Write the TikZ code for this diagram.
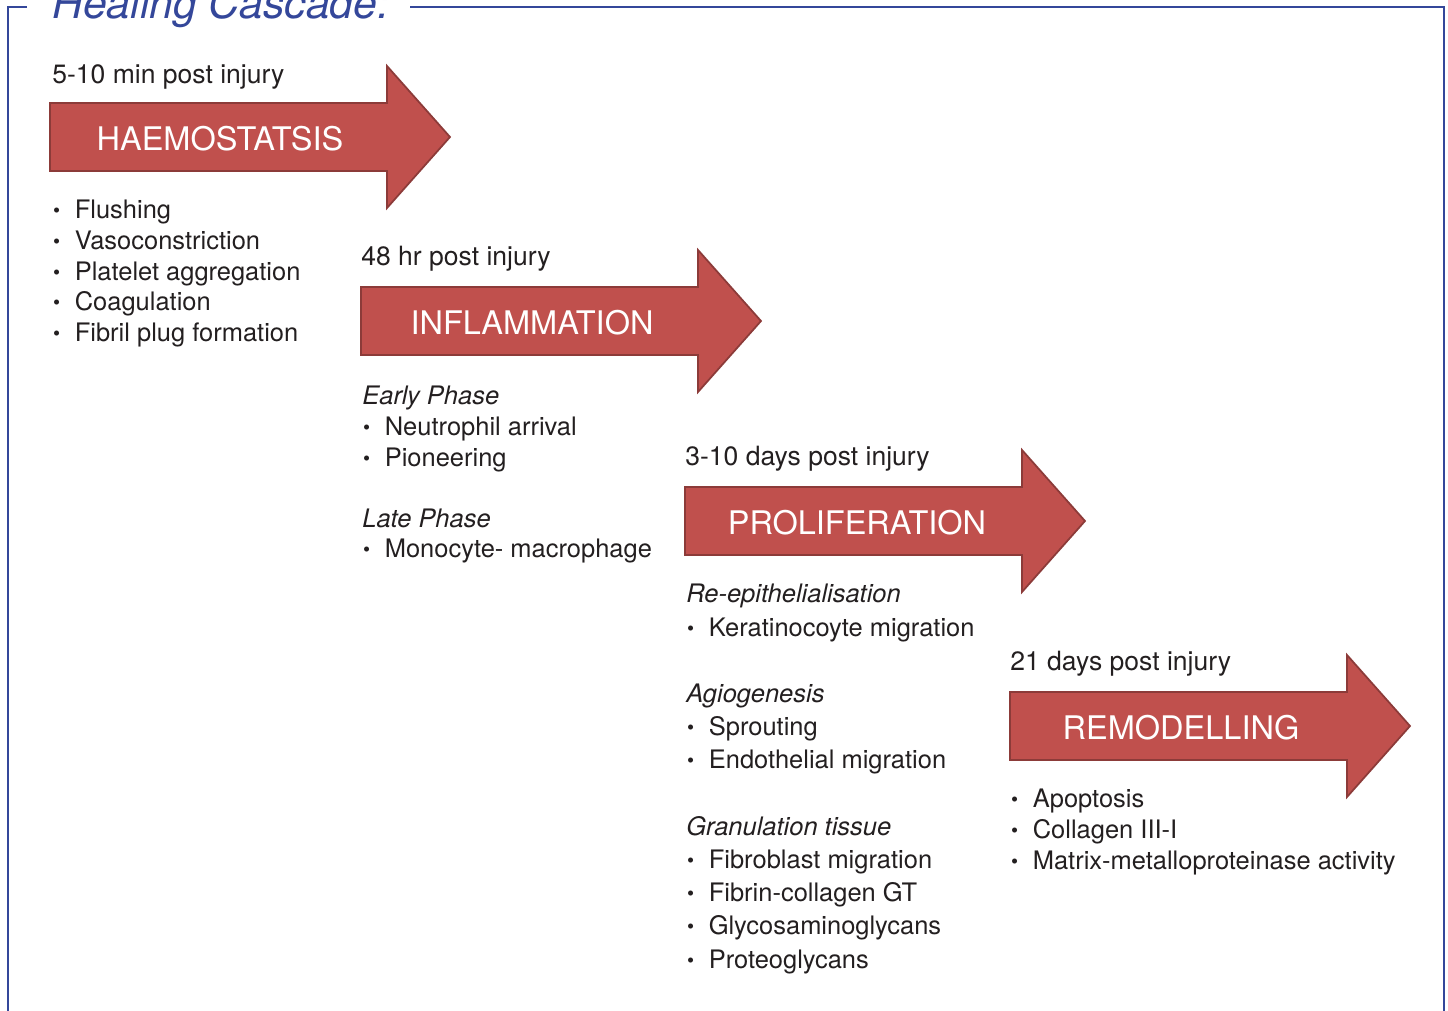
\documentclass[tikz,border=0pt]{standalone}
\usepackage{fontspec}
\setmainfont{TeX Gyre Heros}

\definecolor{cascblue}{HTML}{34479A}
\definecolor{arrowred}{HTML}{C0504D}
\definecolor{arrowrim}{HTML}{8C3B39}
\definecolor{inktext}{HTML}{231F20}

\newcommand{\bul}{\makebox[12.8pt][l]{\hspace{0.4pt}\raisebox{0.6pt}{\fontsize{11.5}{11.5}\selectfont\textbullet}}}

\begin{document}
\begin{tikzpicture}[x=0.02cm,y=-0.02cm,
	phase/.style={fill=arrowred,draw=arrowrim,line width=1pt,line join=miter},
	phaselabel/.style={text=white,font=\fontsize{18.5}{21}\selectfont,inner sep=0pt},
	when/.style={anchor=base west,inner sep=0pt,text=inktext,font=\fontsize{15.1}{18}\selectfont},
	items/.style={anchor=north west,inner sep=0pt,align=left,text=inktext,font=\fontsize{14.5}{17.4}\selectfont}]
			\useasboundingbox (0,0) rectangle (1448,1011);
			\clip (0,0) rectangle (1448,1011);
			\node[anchor=base west,inner sep=0pt,text=cascblue,font=\fontsize{24.3}{28}\selectfont\itshape] (ttl) at (52,18) {Healing Cascade:};
			\draw[cascblue,line width=1.4pt] (27,7)--(8,7)--(8,1030);
			\draw[cascblue,line width=1.4pt] (410,7)--(1444,7)--(1444,1030);
			\draw[phase] (50,103)--(387,103)--(387,66)--(450,137)--(387,208)--(387,171)--(50,171)--cycle;
			\draw[phase] (361,287)--(698,287)--(698,250)--(761,321)--(698,392)--(698,355)--(361,355)--cycle;
			\draw[phase] (685,487)--(1022,487)--(1022,450)--(1085,521)--(1022,592)--(1022,555)--(685,555)--cycle;
			\draw[phase] (1010,692)--(1347,692)--(1347,655)--(1410,726)--(1347,797)--(1347,760)--(1010,760)--cycle;
			\node[phaselabel] (haem) at (220,139) {HAEMOSTATSIS};
			\node[phaselabel] (infl) at (532,323) {INFLAMMATION};
			\node[phaselabel] (prol) at (857,523) {PROLIFERATION};
			\node[phaselabel] (remo) at (1181,728) {REMODELLING};
			\node[when] (haemtime) at (52,83) {5-10 min post injury};
			\node[when] (infltime) at (361,265) {48 hr post injury};
			\node[when] (proltime) at (685,465) {3-10 days post injury};
			\node[when] (remotime) at (1010,670) {21 days post injury};
			\node[items] (haemlist) at (52,200) {\bul Flushing\\ \bul Vasoconstriction\\ \bul Platelet aggregation\\ \bul Coagulation\\ \bul Fibril plug formation};
			\node[items] (infllist) at (362,386) {\textit{Early Phase}\\ \bul Neutrophil arrival\\ \bul Pioneering\\[17.4pt] \textit{Late Phase}\\ \bul Monocyte- macrophage};
			\node[items,font=\fontsize{14.5}{18.9}\selectfont] (prollist) at (686,584) {\textit{Re-epithelialisation}\\ \bul Keratinocoyte migration\\[18.9pt] \textit{Agiogenesis}\\ \bul Sprouting\\ \bul Endothelial migration\\[18.9pt] \textit{Granulation tissue}\\ \bul Fibroblast migration\\ \bul Fibrin-collagen GT\\ \bul Glycosaminoglycans\\ \bul Proteoglycans};
			\node[items] (remolist) at (1010,789) {\bul Apoptosis\\ \bul Collagen III-I\\ \bul Matrix-metalloproteinase activity};
		\end{tikzpicture}
\end{document}
